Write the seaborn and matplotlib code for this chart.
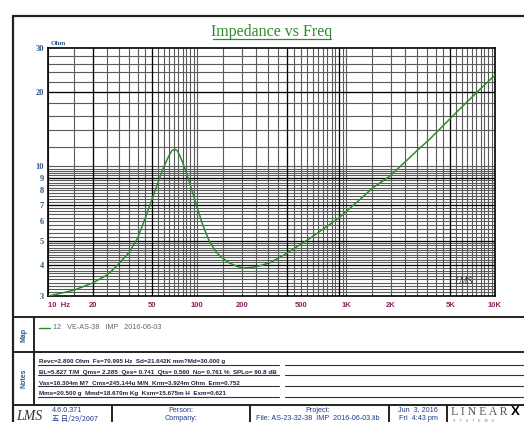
import numpy as np
import matplotlib
matplotlib.use("Agg")
import matplotlib.pyplot as plt
import seaborn as sns

# impedance curve (Hz, Ohm)
freq_hz = [10, 12, 15, 20, 25, 29, 35, 40, 45, 50, 55, 60, 65, 68, 71, 74,
           77, 80, 85, 90, 95, 100, 105, 110, 120, 130, 140, 150, 165, 185,
           205, 240, 275, 310, 390, 560, 700, 890, 1000, 1290, 1500, 1970,
           2630, 3000, 3600, 5000, 6000, 7800, 10000]
impedance_ohm = [3.0, 3.07, 3.17, 3.39, 3.65, 3.97, 4.5, 5.15, 6.2, 7.4, 8.7,
                 10.0, 11.1, 11.6, 11.75, 11.55, 11.0, 10.4, 9.4, 8.45, 7.6,
                 6.85, 6.25, 5.75, 5.05, 4.65, 4.4, 4.25, 4.08, 3.95, 3.89,
                 3.92, 4.0, 4.09, 4.42, 5.08, 5.58, 6.18, 6.57, 7.52, 8.17,
                 9.15, 10.75, 11.6, 12.8, 15.6, 17.4, 20.3, 23.4]

y_tick_values = [3, 4, 5, 6, 7, 8, 9, 10, 20, 30]
x_tick_values = [10, 20, 50, 100, 200, 500, 1000, 2000, 5000, 10000]
x_tick_labels = ["10  Hz", "20", "50", "100", "200", "500", "1K", "2K", "5K", "10K"]

legend_label = "12   VE-AS-38   IMP   2016-06-03"
notes_lines = [
    "Revc=2.800 Ohm  Fs=70.995 Hz  Sd=21.642K mm?Md=30.000 g",
    "BL=5.827 T/M  Qms= 2.285  Qes= 0.741  Qts= 0.560  No= 0.761 %  SPLo= 90.8 dB",
    "Vas=16.304m M?  Cms=245.144u M/N  Krm=3.924m Ohm  Erm=0.752",
    "Mms=20.500 g  Mmd=18.670m Kg  Kxm=15.675m H  Exm=0.621",
]

sns.set_style("white")
plt.rcParams['font.family'] = ['Liberation Sans', 'DejaVu Sans', 'Noto Sans CJK SC']

W, H = 524, 422
fig = plt.figure(figsize=(W / 100, H / 100), dpi=100)

# page overlay in pixel coordinates
bg = fig.add_axes([0, 0, 1, 1])
bg.set_xlim(0, W)
bg.set_ylim(H, 0)
bg.axis('off')

green = '#2e8b2e'
blue = '#2f5a86'
navy = '#1f3c88'
maroon = '#8b2060'

# frame
bg.plot([13, 13], [16, H], color='#222222', lw=1.6)
bg.plot([13, W], [16, 16], color='#222222', lw=1.6)
for yy in [317, 352, 405]:
    bg.plot([13, W], [yy, yy], color='#222222', lw=1.4)
bg.plot([34, 34], [317, 405], color='#222222', lw=1.4)
for xx in [112, 250, 389, 447]:
    bg.plot([xx, xx], [405, H], color='#222222', lw=1.4)

# title
bg.text(272, 36.5, "Impedance vs Freq", color=green, fontsize=11.5,
        family='Liberation Serif', ha='center', va='baseline')
bg.plot([213, 331], [38.5, 38.5], color=green, lw=0.9)
bg.text(51, 45, "Ohm", color=blue, fontsize=5, family='Liberation Serif',
        fontweight='bold', va='baseline')

# map section
bg.text(24, 335, "Map", rotation=90, color=blue, fontsize=5, fontweight='bold',
        ha='center', va='center')
bg.plot([39, 50], [327.5, 327.5], color=green, lw=1)
bg.text(53, 327.5, legend_label, color='#666666', fontsize=5.2, va='center')

# notes section
bg.text(24, 378, "Notes", rotation=90, color=blue, fontsize=5, fontweight='bold',
        ha='center', va='center')
for i, line in enumerate(notes_lines):
    yy = 363 + i * 10.8
    bg.text(39, yy, line, color='#222244', fontsize=4.5, fontweight='bold',
            va='baseline')
    bg.plot([38, 279], [yy + 1.5, yy + 1.5], color='#333333', lw=0.8)
    bg.plot([285, W], [yy + 1.5, yy + 1.5], color='#333333', lw=0.8)

# footer
bg.text(16, 416, "LMS", fontsize=10, fontstyle='italic', family='Liberation Serif',
        color='#333333', va='center')
bg.text(52, 410, "4.6.0.371", color=navy, fontsize=5.2, va='center')
bg.text(52, 419, "五 日/29/2007", color=navy, fontsize=5.2, va='center',
        family=['Noto Sans CJK SC', 'DejaVu Sans'])
bg.text(181, 410, "Person:", color=navy, fontsize=5.2, ha='center', va='center')
bg.text(181, 419, "Company:", color=navy, fontsize=5.2, ha='center', va='center')
bg.text(318, 410, "Project:", color=navy, fontsize=5.2, ha='center', va='center')
bg.text(318, 419, "File: AS-23-32-38  IMP  2016-06-03.lib", color=navy, fontsize=5.2,
        ha='center', va='center')
bg.text(418, 410, "Jun  3, 2016", color=navy, fontsize=5.2, ha='center', va='center')
bg.text(418, 419, "Fri  4:43 pm", color=navy, fontsize=5.2, ha='center', va='center')
bg.text(451, 412, "L I N E A R", color='#555555', fontsize=8.5,
        family='Liberation Serif', va='center')
bg.text(511, 412, "X", color='black', fontsize=9.5, fontweight='bold', va='center')
bg.text(453, 420.5, "S    Y    S    T    E    M    S", color='#777777', fontsize=2.5,
        va='center')

# plot area
ax = fig.add_axes([48 / W, 1 - 296 / H, 447 / W, (296 - 48.3) / H])
ax.set_xscale('log')
ax.set_yscale('log')
ax.set_xlim(10, 10000)
ax.set_ylim(3, 30)

grid_x = np.concatenate([d * np.arange(1, 10, 0.5) for d in [10, 100, 1000]])
grid_y = np.concatenate([np.arange(3, 5, 0.1), np.arange(5, 10, 0.2), np.arange(10, 30, 2)])
ax.vlines(grid_x, 3, 30, color='#5a5a5a', lw=0.8, zorder=1)
ax.hlines(grid_y, 10, 10000, color='#5a5a5a', lw=0.8, zorder=1)
ax.vlines([20, 50, 400, 900, 5000], 3, 30, color='black', lw=0.9, zorder=1)
ax.hlines([4, 5, 7, 9, 20], 10, 10000, color='black', lw=0.9, zorder=1)

sns.lineplot(x=freq_hz, y=impedance_ohm, ax=ax, color=green, lw=1.1, zorder=3)

ax.set_xticks(x_tick_values)
ax.set_xticklabels(x_tick_labels)
ax.set_yticks(y_tick_values)
ax.set_yticklabels([str(v) for v in y_tick_values])
ax.minorticks_off()
ax.tick_params(length=0, pad=4)
for lbl in ax.get_xticklabels():
    lbl.set_color(maroon)
    lbl.set_fontsize(5.5)
    lbl.set_fontweight('bold')
ax.get_xticklabels()[0].set_horizontalalignment('left')
for lbl in ax.get_yticklabels():
    lbl.set_color(blue)
    lbl.set_fontsize(6)
    lbl.set_fontweight('bold')
    lbl.set_family('Liberation Serif')
ax.tick_params(axis='y', pad=3)
for sp in ax.spines.values():
    sp.set_color('black')
    sp.set_linewidth(1.2)
ax.set_xlabel('')
ax.set_ylabel('')

ax.text(0.93, 0.04, "LMS", transform=ax.transAxes, fontsize=7, fontstyle='italic',
        family='Liberation Serif', color='#333333', ha='center', va='bottom', zorder=4)

fig.savefig("out.png", dpi=100)
